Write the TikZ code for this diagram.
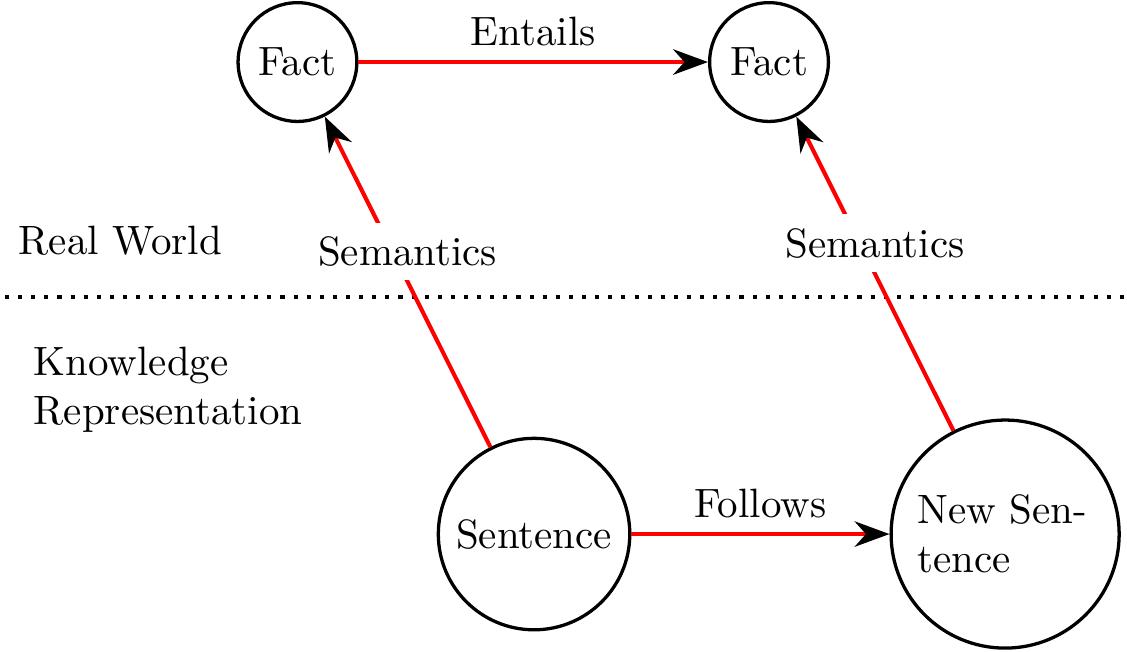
\documentclass[tikz,border=0pt]{standalone}
\usetikzlibrary{arrows.meta}
\begin{document}
\begin{tikzpicture}
[circledecorate/.style={shape=circle,draw,thick},%
  arrowdecorate/.style={-{Stealth[color=black,length=8.5pt,width=6.2pt]},red,line width=1pt},%
  labeldecorate/.style={midway,above,fill=white},%
  dotdecorate/.style={line width=1pt,dash pattern=on 1pt off 2.2pt}]
\useasboundingbox (0,0) rectangle (9.665,-5.583);
% nodes or vertices
\node (fact1) at (2.551,-0.532) [circledecorate] {Fact};
\node (fact2) at (6.595,-0.532) [circledecorate] {Fact};
\node (sent) at (4.580,-4.580) [circledecorate] {Sentence};
\node (newsent) at (8.620,-4.580) [circledecorate,text width=1.5cm,align=left] {New Sen-\\tence};
% regions
\node (real) at (0.154,-2.067) [anchor=west,inner sep=0pt] {Real World};
\node (know) at (0.283,-3.340) [anchor=west,inner sep=0pt,align=left] {Knowledge\\Representation};
\coordinate (dl) at (0.043,-2.547);
\coordinate (dr) at (9.665,-2.547);
\draw[dotdecorate] (dl) -- (dr);
% edges or lines
\path
(fact1) edge[arrowdecorate] node[labeldecorate,text=black]{Entails} (fact2)
(sent) edge[arrowdecorate] node[labeldecorate,text=black]{Follows} (newsent)
(sent) edge[arrowdecorate] node[labeldecorate,text=black]{Semantics} (fact1)
(newsent) edge[arrowdecorate] node[labeldecorate,text=black]{Semantics} (fact2);
\end{tikzpicture}
\end{document}
